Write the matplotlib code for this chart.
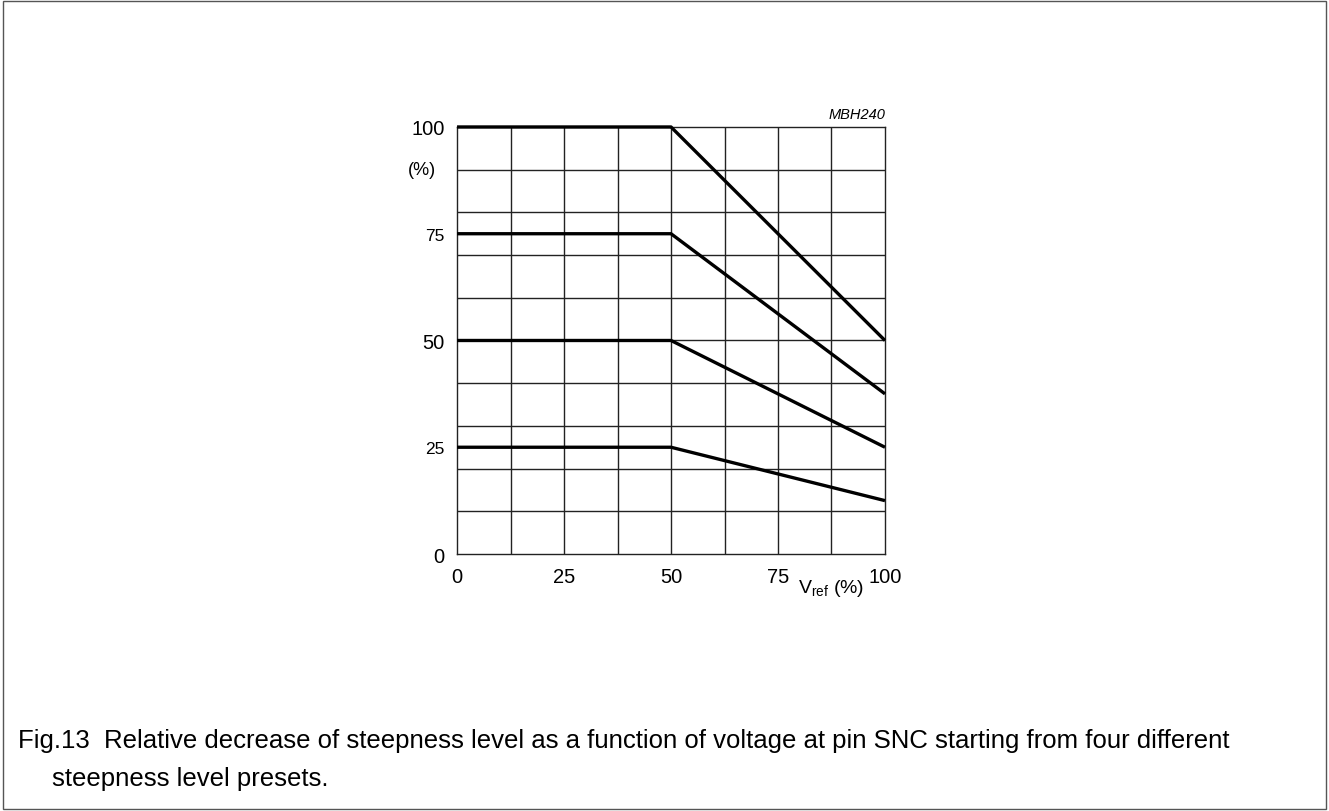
# steepness level vs V_ref, four presets
import matplotlib.pyplot as plt
from matplotlib.patches import Rectangle

plt.rcParams['font.family'] = ['Liberation Sans', 'DejaVu Sans']
plt.rcParams['mathtext.fontset'] = 'custom'
plt.rcParams['mathtext.rm'] = 'Liberation Sans'

vref = [0, 50, 75, 100]
preset_100 = [100, 100, 75, 50]
preset_75 = [75, 75, 56.25, 37.5]
preset_50 = [50, 50, 37.5, 25]
preset_25 = [25, 25, 18.75, 12.5]

x_ticks = [0, 25, 50, 75, 100]
y_ticks = [0, 25, 50, 75, 100]

fig = plt.figure(figsize=(13.29, 8.12), dpi=100)
ax = fig.add_axes([0.3439, 0.3165, 0.322, 0.5259])

# grid: 8 columns, 10 rows
for gx in range(1, 8):
    ax.axvline(gx * 12.5, color="#222222", lw=1.0, zorder=1)
for gy in range(1, 10):
    ax.axhline(gy * 10, color="#222222", lw=1.0, zorder=1)

for ys in (preset_100, preset_75, preset_50, preset_25):
    ax.plot(vref, ys, color="black", lw=2.4, zorder=3, solid_capstyle="butt",
            clip_on=False)

ax.set_xlim(0, 100)
ax.set_ylim(0, 100)
for s in ax.spines.values():
    s.set_linewidth(1.0)
    s.set_color("#222222")

ax.set_xticks(x_ticks)
ax.set_xticklabels([str(v) for v in x_ticks], fontsize=14.5)
ax.set_yticks(y_ticks)
ax.set_yticklabels([str(v) for v in y_ticks])
for lbl, v in zip(ax.get_yticklabels(), y_ticks):
    lbl.set_fontsize(12.5 if v in (25, 75) else 14.5)
ax.tick_params(length=0, pad=9)

ax.text(-11.5, 90, "(%)", fontsize=13, ha="left", va="center")
ax.text(87.5, -7.8, r"V$_{\rm ref}$ (%)", fontsize=14, ha="center", va="center")
ax.text(100, 101.5, "MBH240", fontsize=10.5, style="italic", ha="right", va="bottom")

fig.text(0.0135, 0.088, "Fig.13  Relative decrease of steepness level as a function of voltage at pin SNC starting from four different",
         fontsize=18.5, ha="left", va="center")
fig.text(0.039, 0.041, "steepness level presets.", fontsize=18.5, ha="left", va="center")

fig.patches.append(Rectangle((0.002, 0.002), 0.996, 0.996, transform=fig.transFigure,
                             fill=False, edgecolor="#555555", lw=1.0))

fig.savefig("out.png", dpi=100)
